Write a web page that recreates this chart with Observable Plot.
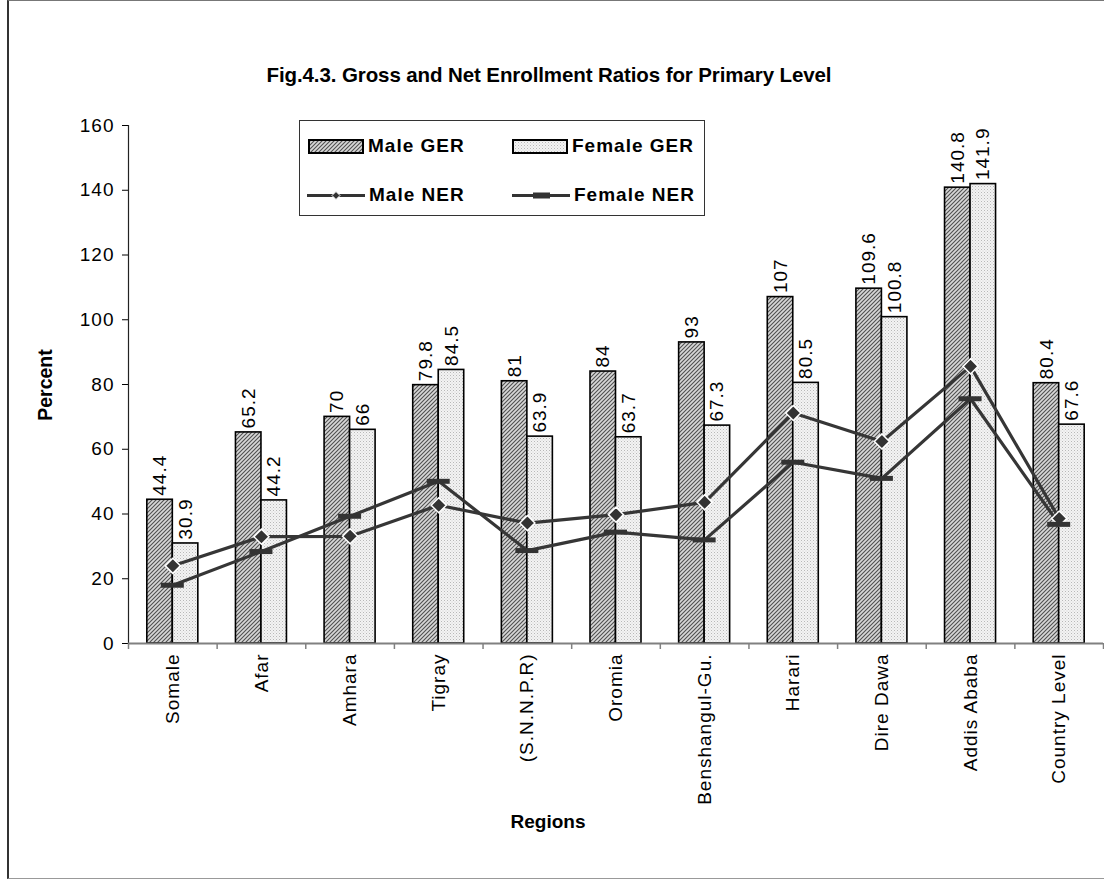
<!DOCTYPE html>
<html>
<head>
<meta charset="utf-8">
<script src="https://cdn.jsdelivr.net/npm/d3@7"></script>
<script src="https://cdn.jsdelivr.net/npm/@observablehq/plot@0.6"></script>
<style>
  html, body { margin: 0; padding: 0; background: #fff; }
  #wrap { position: relative; width: 1104px; height: 881px; overflow: hidden; font-family: "Liberation Sans", Arial, sans-serif; }
  #frame { position: absolute; left: 7px; top: 0px; width: 1120px; height: 879px; border-left: 2px solid #333; border-top: 1px solid #777; border-bottom: 1px solid #999; box-sizing: border-box; pointer-events: none; }
  #chart { position: absolute; left: 0; top: 0; }
  .title { position: absolute; left: 0; width: 1098px; top: 63px; text-align: center; font-weight: bold; font-size: 20.5px; color: #000; letter-spacing: -0.1px; }
  .ylab { position: absolute; left: 45px; top: 385px; transform: translate(-50%, -50%) rotate(-90deg); font-weight: bold; font-size: 19.5px; white-space: nowrap; }
  .xlab { position: absolute; left: 548px; top: 822px; transform: translate(-50%, -50%); font-weight: bold; font-size: 19px; white-space: nowrap; }
  #legend { position: absolute; left: 299px; top: 120px; width: 406px; height: 96px; border: 1px solid #333; box-sizing: border-box; background: #fff; }
  .li { position: absolute; display: flex; align-items: center; font-weight: bold; font-size: 19px; letter-spacing: 1px; white-space: nowrap; }
</style>
</head>
<body>
<div id="wrap">
  <div id="chart"></div>
  <div class="title">Fig.4.3. Gross and Net Enrollment Ratios for Primary Level</div>
  <div class="ylab">Percent</div>
  <div class="xlab">Regions</div>
  <div id="legend"></div>
  <div id="frame"></div>
</div>
<script>
// ---- data ----
const regions = ["Somale", "Afar", "Amhara", "Tigray", "(S.N.N.P.R)", "Oromia", "Benshangul-Gu.", "Harari", "Dire Dawa", "Addis Ababa", "Country Level"];
const maleGER   = [44.4, 65.2, 70, 79.8, 81, 84, 93, 107, 109.6, 140.8, 80.4];
const femaleGER = [30.9, 44.2, 66, 84.5, 63.9, 63.7, 67.3, 80.5, 100.8, 141.9, 67.6];
const maleNER   = [24, 33, 33.1, 42.7, 37.2, 39.8, 43.6, 71.2, 62.4, 85.6, 38.6];
const femaleNER = [18, 28.4, 39.3, 50.1, 28.7, 34.4, 32, 56, 51, 75.6, 36.8];
const yTicks = [0, 20, 40, 60, 80, 100, 120, 140, 160];
const seriesNames = ["Male GER", "Female GER", "Male NER", "Female NER"];

// ---- layout ----
const W = 1104, H = 881;
const mL = 128, mR = 1, mT = 125, mB = 238;
const bw = (W - mL - mR) / regions.length;
const barW = 25.5;
const pxPerUnit = (H - mT - mB) / 160;
const tickLen = 6 / pxPerUnit;

const rows = regions.map((r, i) => ({
  region: r, mger: maleGER[i], fger: femaleGER[i], mner: maleNER[i], fner: femaleNER[i]
}));

const labelStyle = {fontSize: 19, fontFamily: "Liberation Sans, Arial, sans-serif"};

const plot = Plot.plot({
  width: W, height: H,
  marginLeft: mL, marginRight: mR, marginTop: mT, marginBottom: mB,
  style: {fontFamily: "Liberation Sans, Arial, sans-serif", fontSize: "19px", color: "#000", background: "transparent", overflow: "visible"},
  x: {type: "band", domain: regions, padding: 0, round: false, label: null},
  y: {domain: [0, 160], label: null},
  marks: [
    Plot.axisY({ticks: yTicks, tickSize: 6, tickPadding: 8, fontSize: 19, label: null, stroke: "#000"}),
    Plot.ruleX([0], {x: () => regions[0], dx: -bw / 2, y1: 0, y2: 160, stroke: "#222", strokeWidth: 1.2}),
    Plot.barY(rows, {x: "region", y: "mger", fill: "url(#hatchM)", stroke: "#000", strokeWidth: 1.6,
      insetLeft: bw / 2 - barW, insetRight: bw / 2}),
    Plot.barY(rows, {x: "region", y: "fger", fill: "url(#dotF)", stroke: "#000", strokeWidth: 1.6,
      insetLeft: bw / 2, insetRight: bw / 2 - barW}),
    Plot.ruleY([0], {stroke: "#808080", strokeWidth: 2}),
    Plot.ruleX(regions, {x: d => d, dx: -bw / 2, y1: 0, y2: -tickLen, stroke: "#808080", strokeWidth: 1.5}),
    Plot.ruleX([regions[regions.length - 1]], {x: d => d, dx: bw / 2, y1: 0, y2: -tickLen, stroke: "#808080", strokeWidth: 1.5}),
    Plot.axisX({tickSize: 0, tickPadding: 10, tickRotate: -90, fontSize: 19, label: null}),
    Plot.text(rows, {x: "region", y: "mger", text: d => String(d.mger), rotate: -90, textAnchor: "start", lineAnchor: "middle",
      dx: -barW / 2, dy: -4, ...labelStyle, fill: "#000"}),
    Plot.text(rows, {x: "region", y: "fger", text: d => String(d.fger), rotate: -90, textAnchor: "start", lineAnchor: "middle",
      dx: barW / 2, dy: -4, ...labelStyle, fill: "#000"}),
    Plot.line(rows, {x: "region", y: "mner", stroke: "#363636", strokeWidth: 3.2}),
    Plot.line(rows, {x: "region", y: "fner", stroke: "#363636", strokeWidth: 3.2}),
    Plot.dot(rows, {x: "region", y: "mner", symbol: "diamond2", r: 6.8, fill: "#333", stroke: "#fff", strokeWidth: 1.5}),
    Plot.tickY(rows, {x: "region", y: "fner", stroke: "#333", strokeWidth: 5, insetLeft: bw / 2 - 11.5, insetRight: bw / 2 - 11.5})
  ]
});

// patterns
const defs = `<defs>
  <pattern id="hatchM" patternUnits="userSpaceOnUse" width="4" height="4">
    <rect width="4" height="4" fill="#d8d8d8"/>
    <path d="M-1,1 l2,-2 M0,4 l4,-4 M3,5 l2,-2" stroke="#505050" stroke-width="1.1"/>
  </pattern>
  <pattern id="dotF" patternUnits="userSpaceOnUse" width="3" height="3">
    <rect width="3" height="3" fill="#f3f3f3"/>
    <rect x="0" y="0" width="1" height="1" fill="#b8b8b8"/>
    <rect x="1.5" y="1.5" width="1" height="1" fill="#cfcfcf"/>
  </pattern>
</defs>`;
plot.insertAdjacentHTML("afterbegin", defs);
plot.querySelectorAll("text").forEach(t => t.style.letterSpacing = "1px");
document.getElementById("chart").appendChild(plot);

// ---- legend ----
const legend = document.getElementById("legend");
const swatchSvg = {
  "Male GER": `<svg width="56" height="15"><defs><pattern id="hatchL" patternUnits="userSpaceOnUse" width="4" height="4"><rect width="4" height="4" fill="#d8d8d8"/><path d="M-1,1 l2,-2 M0,4 l4,-4 M3,5 l2,-2" stroke="#505050" stroke-width="1.1"/></pattern></defs><rect x="1" y="1" width="54" height="13" fill="url(#hatchL)" stroke="#000" stroke-width="2"/></svg>`,
  "Female GER": `<svg width="56" height="15"><defs><pattern id="dotL" patternUnits="userSpaceOnUse" width="3" height="3"><rect width="3" height="3" fill="#f3f3f3"/><rect width="1" height="1" fill="#b8b8b8"/><rect x="1.5" y="1.5" width="1" height="1" fill="#cfcfcf"/></pattern></defs><rect x="1" y="1" width="54" height="13" fill="url(#dotL)" stroke="#000" stroke-width="2"/></svg>`,
  "Male NER": `<svg width="58" height="15"><line x1="0" y1="7.5" x2="58" y2="7.5" stroke="#333" stroke-width="3"/><path d="M29,3.5 L33,7.5 L29,11.5 L25,7.5 Z" fill="#333" stroke="#fff" stroke-width="1"/></svg>`,
  "Female NER": `<svg width="58" height="15"><line x1="0" y1="7.5" x2="58" y2="7.5" stroke="#333" stroke-width="3"/><line x1="21" y1="7.5" x2="38" y2="7.5" stroke="#333" stroke-width="6"/></svg>`
};
const pos = [[8, 14], [212, 14], [7, 63], [212, 63]];
seriesNames.forEach((name, i) => {
  const d = document.createElement("div");
  d.className = "li";
  d.style.left = pos[i][0] + "px";
  d.style.top = pos[i][1] + "px";
  d.innerHTML = swatchSvg[name] + `<span style="margin-left:4px">${name}</span>`;
  legend.appendChild(d);
});
</script>
</body>
</html>
